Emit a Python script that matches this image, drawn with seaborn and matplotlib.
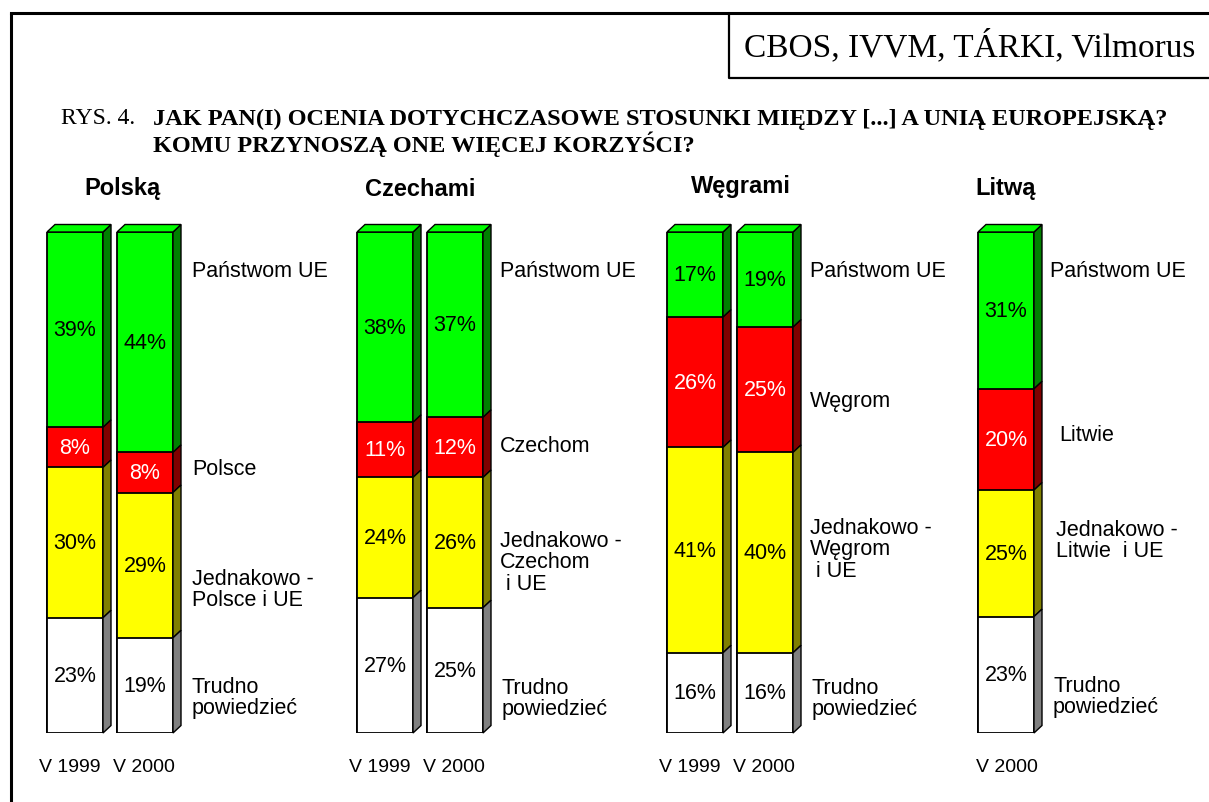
import matplotlib
matplotlib.use("Agg")
import matplotlib.pyplot as plt
from matplotlib.patches import Polygon
import numpy as np
import pandas as pd
import seaborn as sns

# ── data ──────────────────────────────────────────────────────
bar_ids   = ["PL 1999", "PL 2000", "CZ 1999", "CZ 2000", "HU 1999", "HU 2000", "LT 2000"]
years     = ["V 1999", "V 2000", "V 1999", "V 2000", "V 1999", "V 2000", "V 2000"]
panstwom  = [39, 44, 38, 37, 17, 19, 31]   # Państwom UE
krajowi   = [8, 8, 11, 12, 26, 25, 20]     # Polsce / Czechom / Węgrom / Litwie
jednakowo = [30, 29, 24, 26, 41, 40, 25]
trudno    = [23, 19, 27, 25, 16, 16, 23]
groups    = ["Polską", "Czechami", "Węgrami", "Litwą"]

# layout (pixel units of the 1209x803 canvas)
W, H = 1209, 803
bar_x = [75, 145, 385, 455, 695, 765, 1006]
BOT, TOP = 734, 233
DX, DY = 8, 7.5 / ((BOT - TOP) / 100)

layers = [("Państwom UE", panstwom, "#00ff00", "#008000", "black"),
          ("kraj", krajowi, "#ff0000", "#800000", "white"),
          ("Jednakowo", jednakowo, "#ffff00", "#808000", "black"),
          ("Trudno", trudno, "#ffffff", "#808080", "black")]

tot = np.array(panstwom) + np.array(krajowi) + np.array(jednakowo) + np.array(trudno)
shares = [np.array(v) / tot * 100 for _, v, *_ in layers]
# cumulative tops, from the top of the stack downwards
tops = [sum(shares[i:]) for i in range(len(shares))]

sns.set_theme(style="white")
plt.rcParams["font.family"] = ["Liberation Sans", "DejaVu Sans"]
plt.rcParams["text.color"] = "black"

fig = plt.figure(figsize=(W / 100, H / 100), dpi=100)
bg = fig.add_axes([0, 0, 1, 1])
bg.set_xlim(0, W); bg.set_ylim(H, 0); bg.axis("off")

ax = fig.add_axes([0, (H - BOT) / H, 1, (BOT - TOP) / H])
ax.patch.set_visible(False)

for (name, vals, col, dark, tcol), top in zip(layers, tops):
    df = pd.DataFrame({"x": bar_x, "v": top})
    sns.barplot(data=df, x="x", y="v", native_scale=True, width=0.8, color=col,
                saturation=1, edgecolor="black", linewidth=1.3, errorbar=None, ax=ax)

hw = 28
for i, x in enumerate(bar_x):
    xr, xl = x + hw, x - hw
    for k, (name, vals, col, dark, tcol) in enumerate(layers):
        y1 = tops[k][i]
        y0 = y1 - shares[k][i]
        ax.add_patch(Polygon([(xr, y0), (xr + DX, y0 + DY), (xr + DX, y1 + DY), (xr, y1)],
                             closed=True, fc=dark, ec="black", lw=1.0, clip_on=False))
        ax.text(x, (y0 + y1) / 2, f"{vals[i]}%", ha="center", va="center",
                fontsize=15.5, color=tcol)
    ax.add_patch(Polygon([(xl, 100), (xl + DX, 100 + DY), (xr + DX, 100 + DY), (xr, 100)],
                         closed=True, fc="#00ff00", ec="black", lw=1.0, clip_on=False))

ax.set_xlim(0, W); ax.set_ylim(0, 100); ax.axis("off")

# ── frame, source box, titles ─────────────────────────────────
bg.plot([10.5, W], [13.5, 13.5], color="black", lw=2.2, solid_capstyle="projecting")
bg.plot([10.5, 10.5], [13.5, H], color="black", lw=2.2)
bg.plot([729, 729, W], [13.5, 78.5, 78.5], color="black", lw=1.6)
serif = ["Liberation Serif", "DejaVu Serif"]
bg.text(970, 46, "CBOS, IVVM, TÁRKI, Vilmorus", ha="center", va="center",
        fontsize=24, family=serif)

bg.text(61, 119, "RYS. 4.", ha="left", va="center", fontsize=17, family=serif)
bg.text(153, 119, "JAK PAN(I) OCENIA DOTYCHCZASOWE STOSUNKI MIĘDZY [...] A UNIĄ EUROPEJSKĄ?",
        ha="left", va="center", fontsize=17.5, fontweight="bold", family=serif)
bg.text(153, 144, "KOMU PRZYNOSZĄ ONE WIĘCEJ KORZYŚCI?",
        ha="left", va="center", fontsize=17.5, fontweight="bold", family=serif)

for g, gx, gy in zip(groups, [122, 420, 741, 1006], [188, 190, 187, 189]):
    bg.text(gx, gy, g, ha="center", va="center", fontsize=17, fontweight="bold")

for yx, yl in zip([70, 144, 380, 454, 690, 764, 1007], years):
    bg.text(yx, 768, yl, ha="center", va="center", fontsize=14)

cat_labels = [
    (192, 272, "Państwom UE"), (192, 470, "Polsce"),
    (192, 590, "Jednakowo -\nPolsce i UE"), (192, 698, "Trudno\npowiedzieć"),
    (500, 272, "Państwom UE"), (500, 447, "Czechom"),
    (500, 563, "Jednakowo -\nCzechom\n i UE"), (502, 699, "Trudno\npowiedzieć"),
    (810, 272, "Państwom UE"), (810, 402, "Węgrom"),
    (810, 550, "Jednakowo -\nWęgrom\n i UE"), (812, 699, "Trudno\npowiedzieć"),
    (1050, 272, "Państwom UE"), (1059, 436, "Litwie"),
    (1056, 541, "Jednakowo -\nLitwie  i UE"), (1053, 697, "Trudno\npowiedzieć"),
]
for lx, ly, t in cat_labels:
    bg.text(lx, ly, t, ha="left", va="center", fontsize=15.5, linespacing=1.05)

fig.savefig("out.png", dpi=100)
